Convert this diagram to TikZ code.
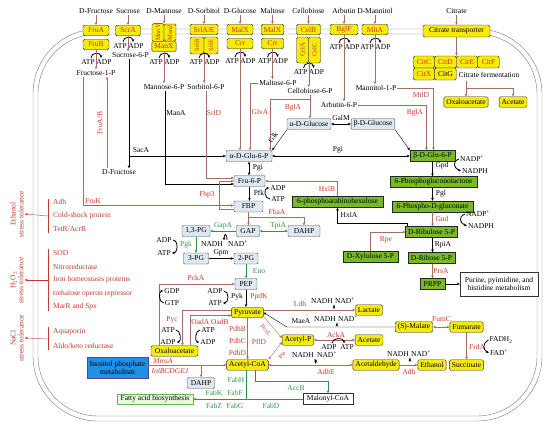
\documentclass[tikz,border=0pt]{standalone}
\usepackage{fontspec}
\setmainfont{Liberation Serif}
\usetikzlibrary{arrows.meta,calc}
\definecolor{enzred}{RGB}{200,55,45}
\definecolor{lnbrown}{RGB}{165,110,95}
\definecolor{enzgreen}{RGB}{40,150,70}
\definecolor{boxyel}{RGB}{245,235,10}
\definecolor{boxgrn}{RGB}{120,185,40}
\definecolor{boxblu}{RGB}{222,232,240}
\definecolor{inosblu}{RGB}{30,144,230}
\definecolor{inosbrd}{RGB}{90,62,154}
\definecolor{fatfill}{RGB}{234,246,227}
\definecolor{fatbrd}{RGB}{114,176,90}
\definecolor{membr}{RGB}{120,120,120}
\begin{document}
\begin{tikzpicture}[x=1pt, y=-1pt, >={Stealth[length=3pt,width=2.6pt]},
  every node/.style={font=\fontsize{7.5}{8}\selectfont, inner sep=1pt},
  mbox/.style={draw=black!70, fill=boxblu, rounded corners=1pt, minimum height=11pt, inner xsep=2.5pt},
  ybox/.style={draw=black!85, fill=boxyel, rounded corners=1.5pt, minimum height=10.5pt, inner xsep=2.5pt},
  tbox/.style={ybox, text=enzred},
  vbox/.style={tbox, rotate=90, font=\fontsize{6.5}{7}\selectfont, inner sep=0.5pt},
  gbox/.style={draw=black!85, fill=boxgrn, minimum height=11pt, inner xsep=2.5pt},
  enz/.style={text=enzred},
  genz/.style={text=enzgreen},
  stress/.style={text=enzred, anchor=west},
  cof/.style={->, line width=0.8pt}]
\useasboundingbox (0,0) rectangle (550,429);
\draw[membr, rounded corners=65pt] (33,29) rectangle (542,421);
\draw[membr, rounded corners=60pt] (38,34) rectangle (537,416);

\node (tfru) at (96,11) {D-Fructose};
\node (tsuc) at (128,11) {Sucrose};
\node (tman) at (164,11) {D-Mannose};
\node (tsor) at (204,11) {D-Sorbitol};
\node (tglc) at (240,11) {D-Glucose};
\node (tmal) at (272.5,11) {Maltose};
\node (tcel) at (308.5,11) {Cellobiose};
\node (tarb) at (344,11) {Arbutin};
\node (tmtl) at (375,11) {D-Mannitol};
\node (tcit) at (456.5,11) {Citrate};

\node[tbox, minimum width=26pt] (fruA) at (96,30.5) {FruA};
\node[tbox, minimum width=26pt] (fruB) at (96,44.5) {FruB};
\node[tbox, minimum width=25pt] (scrA) at (128,30.5) {ScrA};
\node[vbox, minimum width=17pt, minimum height=12pt] (manY) at (158,32.5) {ManY};
\node[vbox, minimum width=17pt, minimum height=12pt] (manZ) at (170,32.5) {ManZ};
\node[tbox, minimum width=24pt] (manX) at (164,46.5) {ManX};
\node[tbox, minimum width=28pt] (srlAE) at (204,29.5) {SrlA/E};
\node[vbox, minimum width=17pt, minimum height=14pt] (srlB) at (197,45.5) {SrlB};
\node[vbox, minimum width=17pt, minimum height=14pt] (srlE) at (211,45.5) {SrlE};
\node[tbox, minimum width=26pt] (malX) at (240,29.5) {MalX};
\node[tbox, minimum width=26pt] (crr) at (240,43.5) {Crr};
\node[tbox, minimum width=22pt] (malX2) at (272.5,29.5) {MalX};
\node[tbox, minimum width=22pt] (crr2) at (272.5,43.5) {Crr};
\node[tbox, minimum width=24pt] (celB) at (308.5,29.5) {CelB};
\node[vbox, minimum width=26pt, minimum height=12pt] (celA) at (302.5,50) {CelA};
\node[vbox, minimum width=26pt, minimum height=12pt] (celC) at (314.5,50) {CelC};
\node[tbox, minimum width=28pt] (bglF) at (344,29.5) {BglF};
\node[tbox, minimum width=26pt] (mltA) at (375,29.5) {MltA};
\node[ybox, minimum width=67pt, minimum height=12pt] (citT) at (456.5,31) {Citrate transporter};
\node[tbox, minimum width=21.5pt, minimum height=12pt] (citC) at (424,62) {CitC};
\node[tbox, minimum width=21.5pt, minimum height=12pt] (citD) at (445.5,62) {CitD};
\node[tbox, minimum width=21.5pt, minimum height=12pt] (citE) at (467,62) {CitE};
\node[tbox, minimum width=21.5pt, minimum height=12pt] (citF) at (488.5,62) {CitF};
\node[tbox, minimum width=21.5pt, minimum height=12pt] (citX) at (424,74) {CitX};
\node[ybox, minimum width=21.5pt, minimum height=12pt] (citG) at (445.5,74) {CitG};
\node (citferm) at (489,75) {Citrate fermentation};
\node[ybox] (oaa1) at (466,102) {Oxaloacetate};
\node[ybox] (ace1) at (513,102) {Acetate};

\foreach \i/\x/\y in {1/96/62,2/128/46,3/164/62,4/204/62,5/240/61,6/272.5/61,7/308.5/72,8/344/47,9/375/47}{
  \node (atp\i) at (\x-8,\y) {ATP};
  \node (adp\i) at (\x+8,\y) {ADP};
  \draw[cof] (\x-5,\y-4) .. controls (\x-5,\y-10) and (\x+5,\y-10) .. (\x+5,\y-4);
}

\node (fru1p) at (96,73) {Fructose-1-P};
\node (suc6p) at (130.5,55) {Sucrose-6-P};
\node (man6p) at (164,87) {Mannose-6-P};
\node (sor6p) at (206,87) {Sorbitol-6-P};
\node (mal6p) at (278,83) {Maltose-6-P};
\node (cel6p) at (310,91) {Cellobiose-6-P};
\node (arb6p) at (339,105) {Arbutin-6-P};
\node (mtl1p) at (376,88) {Mannitol-1-P};

\draw[->, lnbrown] (tfru) -- (fruA);
\draw[->, lnbrown] (tsuc) -- (scrA);
\draw[->, lnbrown] (tman) -- (tman.south |- manY.east);
\draw[->, lnbrown] (tsor) -- (srlAE);
\draw[->, lnbrown] (tglc) -- (malX);
\draw[->, lnbrown] (tmal) -- (malX2);
\draw[->, lnbrown] (tcel) -- (celB);
\draw[->, lnbrown] (tarb) -- (bglF);
\draw[->, lnbrown] (tmtl) -- (mltA);
\draw[->, lnbrown] (tcit) -- (citT);

\draw[->, lnbrown] (fruB) -- (fru1p);
\draw[->, lnbrown] (scrA) -- (scrA.south |- suc6p.north);
\draw[->, lnbrown] (manX) -- (man6p);
\draw[->, lnbrown] (srlB.south west) -- (srlB.south west |- sor6p.north);
\draw[->, lnbrown] (crr2) -- (crr2.south |- mal6p.north);
\draw[->, lnbrown] (celA.south west) -- (celA.south west |- cel6p.north);
\draw[->, lnbrown] (bglF) -- (bglF.south |- arb6p.north);
\draw[->, lnbrown] (mltA) -- (mltA.south |- mtl1p.north);
\draw[->, lnbrown] (citT) -- (citT.south |- citD.north);
\coordinate (cft) at (466,81);
\coordinate (cfj) at (466,88);
\draw[lnbrown] (cft) -- (cfj);
\draw[->, lnbrown] (cfj) -- (oaa1.north);
\draw[->, lnbrown] (cfj) -| (ace1.north);

\node[mbox, minimum width=42pt] (aglc) at (309,124) {α-D-Glucose};
\node[mbox, minimum width=42pt] (bglc) at (373,124) {β-D-Glucose};
\node[mbox, minimum width=46pt] (ag6p) at (249,156) {α-D-Glu-6-P};
\node[mbox, minimum width=31pt] (fru6p) at (249.5,181) {Fru-6-P};
\node[mbox, minimum width=29pt] (fbp) at (248.5,206.5) {FBP};
\node[mbox, minimum width=23pt] (gap) at (248,231) {GAP};
\node[mbox, minimum width=28pt] (pg13) at (196,231) {1,3-PG};
\node[mbox, minimum width=25pt] (pg3) at (196,258.5) {3-PG};
\node[mbox, minimum width=24pt] (pg2) at (246,258.5) {2-PG};
\node[mbox, minimum width=22pt] (pep) at (246,284) {PEP};
\node[mbox, minimum width=32pt] (dahp1) at (304,231) {DAHP};
\node[mbox, minimum width=27pt] (dahp2) at (201,383) {DAHP};

\node[gbox, minimum width=45pt] (bg6p) at (432.5,156) {β-D-Glu-6-P};
\node[gbox, minimum width=87pt] (pgl) at (433.5,182) {6-Phosphogluconolactone};
\node[gbox, minimum width=81pt] (pgn) at (432.5,206.5) {6-Phospho-D-gluconate};
\node[gbox, minimum width=47pt] (ribu) at (431.5,232) {D-Ribulose 5-P};
\node[gbox, minimum width=47pt] (ribo) at (431.5,258) {D-Ribose 5-P};
\node[gbox, minimum width=25pt] (prpp) at (432.5,284) {PRPP};
\node[gbox, minimum width=91pt] (arab) at (337.5,202) {6-phosphoarabinohexulose};
\node[gbox, minimum width=55pt] (xyl) at (370.5,256.5) {D-Xylulose 5-P};
\node[draw=black!80, fill=white, align=center, minimum width=78pt, minimum height=24pt] (purine) at (499,284) {Purine, pyimidine, and\\histidine metabolism};

\node[ybox] (pyr) at (247.5,312.5) {Pyruvate};
\node[ybox, minimum width=47pt] (oaa2) at (174.5,351) {Oxaloacetate};
\node[ybox] (accoa) at (247.5,365) {Acetyl-CoA};
\node[ybox] (lac) at (369,310) {Lactate};
\node[ybox] (acp) at (298,340) {Acetyl-P};
\node[ybox] (ace2) at (369,340) {Acetate};
\node[ybox] (acald) at (376,365) {Acetaldehyde};
\node[ybox] (etoh) at (432,365) {Ethanol};
\node[ybox] (mal) at (414,327) {(S)-Malate};
\node[ybox] (fum) at (466.5,327) {Fumarate};
\node[ybox] (suc) at (466.5,365) {Succinate};
\node[draw=inosbrd, fill=inosblu, line width=0.9pt, align=center, minimum width=61pt, minimum height=21pt, inner sep=0.5pt] (inos) at (117.5,367.5) {Inositol phosphate\\metabolism};
\node[draw=fatbrd, fill=fatfill, minimum width=76pt, minimum height=10pt] (fab) at (155,399) {Fatty acid biosynthesis};
\node[draw=black!80, fill=white, minimum width=50pt, minimum height=11pt] (malcoa) at (328,399) {Malonyl-CoA};

\node (dfru) at (119,172) {D-Fructose};
\node (sacA) at (141,150) {SacA};
\coordinate (sacj) at (129,156);
\draw (suc6p.south -| sacj) -- (sacj);
\draw[->] (sacj) -- (sacj |- dfru.north);
\draw[->] (sacj) -- (ag6p.west);
\coordinate (frab) at (107,168);
\draw[->, lnbrown] (frab) -- (frab |- fru1p.south);
\node[enz, rotate=90] (fruAB) at (100,123) {FruA/B};
\draw[->, lnbrown] ($(fru1p.south)+(-13,0)$) |- ($(fbp.west)+(0,-1)$);
\node[enz] (fruK) at (93,201) {FruK};
\draw[->] ($(man6p.south)+(1,0)$) |- ($(fru6p.west)+(0,3)$);
\node (manA) at (176,113) {ManA};
\draw[->, lnbrown] (sor6p.south) |- ($(fru6p.west)+(0,-3)$);
\node[enz] (srlD) at (214,113) {SrlD};
\draw[->, lnbrown] ($(fbp.west)+(0,3)$) -- ++(-15,0) |- (fru6p.west);
\node[enz] (fbp3) at (207,195) {Fbp3};
\draw[->, lnbrown] (crr) -- (crr.south |- ag6p.north);
\draw[->, lnbrown] (mal6p.west) -| ($(ag6p.north)+(1,0)$);
\node[enz] (glvA) at (260,112) {GlvA};
\draw[->, lnbrown] (cel6p) -- (cel6p |- aglc.north);
\draw[->, lnbrown] ($(cel6p.south)+(0,4)$) -| ($(ag6p.north east)+(-2,0)$);
\node[enz] (bglA1) at (293,108) {BglA};
\draw[->, lnbrown] (arb6p.east) -| ($(bg6p.north)+(-6,0)$);
\node[enz] (bglA2) at (415,113) {BglA};
\draw[->, lnbrown] (mtl1p.east) -| ($(bg6p.north)+(1,0)$);
\node[enz] (mtlD) at (421,95) {MtlD};

\draw[->] (aglc.south west) -- (ag6p.north east);
\node[rotate=52] (glk) at (273,137) {Glk};
\draw[->] (bglc.south east) -- (bg6p.north west);
\draw[<->] (aglc.east) -- (bglc.west);
\node (galM) at (341,118) {GalM};
\draw[<->] (ag6p.east) -- (bg6p.west);
\node (pgi2) at (338,150) {Pgi};
\draw[<->] (ag6p.south) -- (ag6p.south |- fru6p.north);
\node (pgi1) at (258,168) {Pgi};
\draw[->] (fru6p.south) -- (fru6p.south |- fbp.north);
\node (pfk) at (259,193) {Pfk};
\node (adp10) at (278,188) {ADP};
\node (atp10) at (278,199) {ATP};
\draw[cof] (atp10.west) .. controls +(-6,0) and +(-6,0) .. (adp10.west);
\draw[->, lnbrown] (arab.north) |- (fru6p.east);
\node[enz] (hxlB) at (327,189) {HxlB};
\coordinate (fbaj) at (248.5,217);
\draw[->, lnbrown] (fbp.south) -- (fbp.south |- gap.north);
\draw[->, lnbrown] (fbp.south |- fbaj) -| (dahp1.north);
\node[enz] (fbaA) at (277,212) {FbaA};
\draw[<->, enzgreen] (gap.east) -- (dahp1.west);
\node[genz] (tpiA) at (278,226) {TpiA};
\draw[->, enzgreen] (gap.west) -- (pg13.east);
\node[genz] (gapA) at (223,226) {GapA};
\node (nadh1) at (212,244) {NADH};
\node (nad1) at (238,244) {NAD\textsuperscript{+}};
\draw[cof] (nad1.north west) .. controls +(0,-7) and +(0,-7) .. (nadh1.north east);
\draw[->, enzgreen] (pg13.south) -- (pg13.south |- pg3.north);
\node[genz] (pgk) at (186,245) {Pgk};
\node (adp11) at (164,240) {ADP};
\node (atp11) at (164,253) {ATP};
\draw[cof] (adp11.east) .. controls +(6,0) and +(6,0) .. (atp11.east);
\draw[->] (pg3.east) -- (pg2.west);
\node (gpm) at (221,253) {Gpm};
\draw[->, enzgreen] (pg2.south) -- (pg2.south |- pep.north);
\node[genz] (eno) at (259,271) {Eno};

\draw[->] (bg6p.south) -- (bg6p.south |- pgl.north);
\node (gpd) at (442,166) {Gpd};
\node (nadp1) at (472,159) {NADP\textsuperscript{+}};
\node (nadph1) at (475,171) {NADPH};
\draw[cof] (nadp1.west) .. controls +(-7,3) and +(-7,-3) .. (nadph1.west);
\draw[->] (bg6p.south |- pgl.south) -- (bg6p.south |- pgn.north);
\node (pglE) at (441,194) {Pgl};
\draw[->, lnbrown] (bg6p.south |- pgn.south) -- (bg6p.south |- ribu.north);
\node[enz] (gnd) at (442,219) {Gnd};
\node (nadp2) at (478,214) {NADP\textsuperscript{+}};
\node (nadph2) at (481,226) {NADPH};
\draw[cof] (nadp2.west) .. controls +(-7,3) and +(-7,-3) .. (nadph2.west);
\draw[->] (bg6p.south |- ribu.south) -- (bg6p.south |- ribo.north);
\node (rpiA) at (443,245) {RpiA};
\draw[->, lnbrown] (bg6p.south |- ribo.south) -- (bg6p.south |- prpp.north);
\node[enz] (prsA) at (441,271) {PrsA};
\draw[->] (prpp) -- (purine);
\draw[->, lnbrown] (xyl.north) |- (ribu.west);
\node[enz] (rpe) at (386,240) {Rpe};
\draw[->] ($(ribu.north west)+(2,0)$) |- ($(arab.south)+(0,15)$) -- (arab.south);
\node (hxlA) at (349,215) {HxlA};

\draw[->, lnbrown] ($(oaa2.north west)+(8,0)$) |- (pep.west);
\node[enz] (pckA) at (196,278) {PckA};
\node (gdp) at (172,291) {GDP};
\node (gtp) at (172,303) {GTP};
\draw[cof] (gtp.west) .. controls +(-5,0) and +(-5,0) .. (gdp.west);
\draw[->] (pep.south) -- (pep.south |- pyr.north);
\node (pyk) at (237,297) {Pyk};
\node[enz] (ppdK) at (259,297) {PpdK};
\node (adp12) at (215,291) {ADP};
\node (atp12) at (215,303) {ATP};
\draw[cof] (adp12.east) .. controls +(6,0) and +(6,0) .. (atp12.east);
\draw[->, lnbrown] ($(pyr.west)+(0,-2)$) -| ($(oaa2.north)+(8,0)$);
\node[enz] (pyc) at (172,320) {Pyc};
\node (atp13) at (168,330) {ATP};
\node (adp13) at (168,342) {ADP};
\draw[cof] (atp13.east) .. controls +(5,0) and +(5,0) .. (adp13.east);
\draw[->, lnbrown] ($(oaa2.north east)+(-8,0)$) |- ($(pyr.west)+(0,3)$);
\node[enz] (oad) at (210,321.5) {OadA OadB};
\node (atp14) at (208,330) {ATP};
\node (adp14) at (208,342) {ADP};
\draw[cof] (atp14.west) .. controls +(-5,0) and +(-5,0) .. (adp14.west);
\draw[->, lnbrown] (pyr.south) -- (pyr.south |- accoa.north);
\node[enz] (pdhB) at (237.5,329) {PdhB};
\node[enz] (pdhC) at (237.5,341) {PdhC};
\node[enz] (pdhD) at (237.5,353) {PdhD};
\node[enz] (pflD) at (259,342) {PflD};

\draw[->, lnbrown] (pyr.east |- lac.west) -- (lac.west);
\node[enz] (ldh) at (300,304) {Ldh};
\node (nadh2) at (322,301) {NADH};
\node (nad2) at (345,301) {NAD\textsuperscript{+}};
\draw[cof] (nadh2.south east) .. controls +(0,5) and +(0,5) .. (nad2.south west);
\coordinate (maej) at (287,327);
\draw[->] (mal.west) -- (maej |- mal.west) -- (pyr.east);
\node (maeA) at (301,321) {MaeA};
\node (nadh3) at (325,319) {NADH};
\node (nad3) at (348,319) {NAD\textsuperscript{+}};
\draw[cof] (nadh3.south east) .. controls +(0,4) and +(0,4) .. (nad3.south west);
\draw[->, lnbrown] ($(pyr.east)+(0,4)$) -- ($(acp.west)+(0,-2)$);
\node[enz, rotate=-48, font=\fontsize{6}{7}\selectfont] (poxL) at (266,330) {PoxL};
\draw[<->, lnbrown] ($(acp.west)+(0,2)$) -- (accoa.north east);
\node[enz, rotate=52, font=\fontsize{6}{7}\selectfont] (pta) at (282,355) {Pta};
\draw[<->, lnbrown] (acp.east) -- (ace2.west);
\node[enz] (ackA) at (336,334.5) {AckA};
\node (adp15) at (329,347) {ADP};
\node (atp15) at (347,347) {ATP};
\draw[cof] ($(adp15.north)+(3,0)$) .. controls +(0,-6) and +(0,-6) .. ($(atp15.north)+(-3,0)$);
\draw[<->, lnbrown] (accoa.east) -- (acald.west);
\node[enz] (adhE) at (326,372) {AdhE};
\node (nadh4) at (303,355) {NADH};
\node (nad4) at (327,355) {NAD\textsuperscript{+}};
\draw[cof] (nadh4.south east) .. controls +(0,5) and +(0,5) .. (nad4.south west);
\draw[->, lnbrown] (acald.east) -- (etoh.west);
\node[enz] (adh2) at (409,372) {Adh};
\node (nadh5) at (398,354) {NADH};
\node (nad5) at (421,354) {NAD\textsuperscript{+}};
\draw[cof] (nadh5.south east) .. controls +(0,5) and +(0,5) .. (nad5.south west);
\draw[<->, lnbrown] (mal.east) -- (fum.west);
\node[enz] (fumC) at (441.5,319) {FumC};
\draw[->, lnbrown] (fum) -- (suc);
\node[enz] (frdA) at (477,347) {FrdA};
\node (fadh) at (501,340) {FADH\textsubscript{2}};
\node (fad) at (499,353) {FAD\textsuperscript{+}};
\draw[cof] (fadh.west) .. controls +(-6,3) and +(-6,-3) .. (fad.west);

\draw[->, lnbrown] (inos.east |- accoa.west) -- (accoa.west);
\node[enz] (mmsA) at (163,361) {\textit{MmsA}};
\node[enz] (iol) at (170,371) {\textit{IolBCDGEJ}};
\coordinate (dahpj) at (201,365);
\draw[->, lnbrown] (dahpj) -- (dahp2.north);
\draw[->, enzgreen] ($(accoa.south)+(-1,0)$) |- (fab.east);
\node[genz] (fabH) at (236,380) {FabH};
\node[genz] (fabK) at (214,393) {FabK};
\node[genz] (fabF) at (235,393) {FabF};
\node[genz] (fabZ) at (214,405.5) {FabZ};
\node[genz] (fabG) at (235,405.5) {FabG};
\draw[->, enzgreen] ($(accoa.south)+(8,0)$) |- ($(malcoa.north)+(0,-12)$) -- (malcoa.north);
\node[genz] (accB) at (296,388.5) {AccB};
\draw[enzgreen] (malcoa.west) -- ($(accoa.south |- malcoa.west)+(-1,0)$);
\node[genz] (fabD) at (271,406) {FabD};

\node[enz, rotate=90, align=center] (ethS) at (17,214) {Ethanol\\stress tolerance};
\draw[enzred] (48,199) -- (48,233);
\coordinate (ethB) at (48,216);
\draw[->, enzred] (ethB) -- (ethS.south);
\node[stress] (adhS) at (52,202) {Adh};
\node[stress] (csp) at (52,216) {Cold-shock protein};
\node[stress] (tetR) at (52,229) {TetR/AcrR};
\node[enz, rotate=90, align=center] (h2o2S) at (17,280) {H\textsubscript{2}O\textsubscript{2}\\stress tolerance};
\draw[enzred] (48,249) -- (48,311);
\coordinate (h2o2B) at (48,280);
\draw[->, enzred] (h2o2B) -- (h2o2S.south);
\node[stress] (sod) at (52,253) {SOD};
\node[stress] (nitro) at (52,266.5) {Nitroreductase};
\node[stress] (iron) at (52,280) {Iron homeostasis proteins};
\node[stress] (treh) at (52,293.5) {trehalose operon repressor};
\node[stress] (marR) at (52,307) {MarR and Spx};
\node[enz, rotate=90, align=center] (naclS) at (17,338) {NaCl\\stress tolerance};
\draw[enzred] (48,327) -- (48,350);
\coordinate (naclB) at (48,339);
\draw[->, enzred] (naclB) -- (naclS.south);
\node[stress] (aqp) at (52,332) {Aquaporin};
\node[stress] (akr) at (52,345.5) {Aldo/keto reductase};
\end{tikzpicture}
\end{document}
